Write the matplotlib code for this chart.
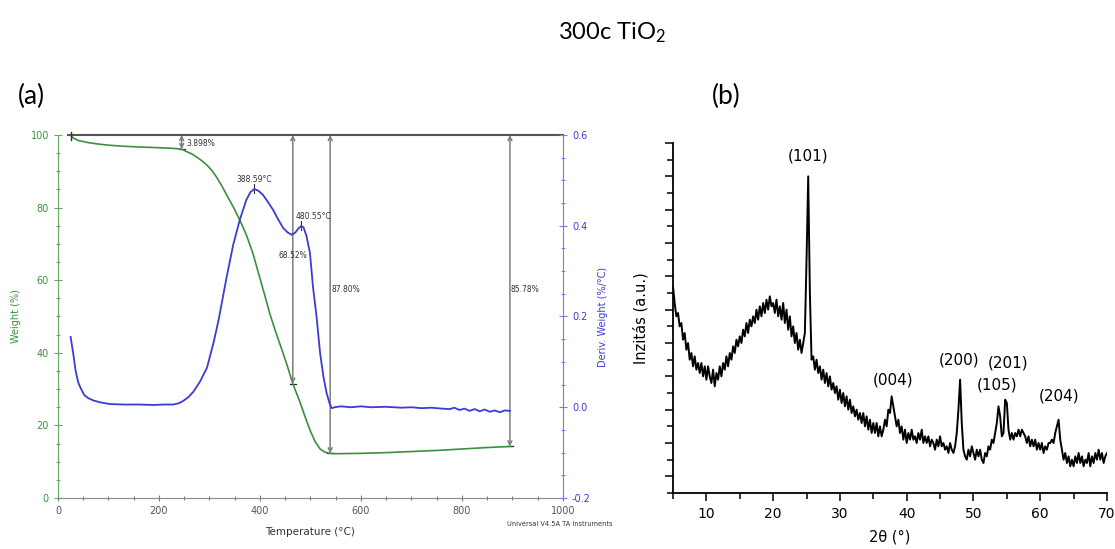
import numpy as np
import matplotlib
matplotlib.use('Agg')
import matplotlib.pyplot as plt
from matplotlib.ticker import MultipleLocator

# ── data: TGA / DTG (panel a) ──
weight_temp = [25, 30, 40, 60, 80, 100, 130, 160, 200, 230, 245, 255, 265, 275, 285,
               295, 305, 314, 324, 334, 347, 360, 373, 386, 400, 410, 420, 433, 446,
               455, 465, 479, 489, 499, 509, 519, 529, 539, 550, 600, 650, 700, 750,
               800, 850, 895]
weight_pct = [100, 99.2, 98.5, 97.9, 97.5, 97.2, 96.9, 96.7, 96.5, 96.3, 96.1, 95.4, 94.8,
              93.9, 92.9, 91.7, 90.2, 88.4, 86.1, 83.5, 80.2, 76.6, 72.5, 67.4, 60.5,
              55.6, 50.5, 45.0, 39.8, 36.0, 31.5, 26.5, 22.5, 18.7, 15.6, 13.5, 12.6,
              12.3, 12.2, 12.3, 12.5, 12.8, 13.1, 13.5, 13.9, 14.2]

deriv_temp = [25, 30, 35, 40, 45, 52, 60, 70, 83, 103, 130, 160, 190, 210, 228, 240, 248,
              258, 268, 281, 295, 308, 318, 334, 347, 360, 373, 381, 389, 397, 406, 416,
              426, 436, 446, 455, 463, 470, 476, 481, 486, 492, 499, 505, 512, 519, 526,
              532, 538, 542, 548, 560, 580, 600, 620, 650, 680, 700, 720, 740, 760, 776,
              785, 795, 805, 815, 825, 835, 845, 855, 865, 875, 885, 895]
deriv_val = [0.155, 0.12, 0.08, 0.055, 0.042, 0.027, 0.02, 0.015, 0.011, 0.007, 0.006,
             0.006, 0.005, 0.006, 0.006, 0.009, 0.014, 0.022, 0.034, 0.056, 0.087, 0.142,
             0.192, 0.287, 0.358, 0.413, 0.457, 0.474, 0.481, 0.477, 0.468, 0.452, 0.435,
             0.414, 0.395, 0.385, 0.380, 0.385, 0.394, 0.399, 0.397, 0.378, 0.34, 0.265,
             0.20, 0.12, 0.065, 0.031, 0.008, -0.002, 0.0, 0.002, 0.0, 0.002, 0.0, 0.001,
             -0.001, 0.0, -0.002, -0.001, -0.003, -0.004, -0.001, -0.006, -0.003, -0.008,
             -0.004, -0.009, -0.005, -0.01, -0.007, -0.011, -0.007, -0.008]

step_temp = [245, 465, 539, 895]
step_bottom = [96.1, 31.5, 12.3, 14.2]
step_label = ['3.898%', '68.52%', '87.80%', '85.78%']
peak_temp = [389, 481]
peak_val = [0.481, 0.399]
peak_label = ['388.59°C', '480.55°C']

# ── data: XRD (panel b) ──
two_theta = np.arange(5.0, 70.01, 0.25)
intensity = [
    5.7, 5.2, 4.8, 4.9, 4.5, 4.6, 4.1, 4.3, 3.8, 4.0, 3.5, 3.7, 3.3, 3.6, 3.2, 3.4,
    3.1, 3.4, 3.0, 3.3, 2.9, 3.3, 3.0, 2.8, 3.2, 2.7, 3.1, 2.9, 3.3, 3.0, 3.4, 3.2,
    3.6, 3.3, 3.7, 3.5, 3.9, 3.7, 4.1, 3.9, 4.2, 4.0, 4.4, 4.2, 4.6, 4.3, 4.7, 4.5,
    4.8, 4.6, 5.0, 4.7, 5.1, 4.8, 5.2, 4.9, 5.3, 5.0, 5.4, 5.1, 5.2, 4.9, 5.3, 4.8,
    5.1, 4.7, 5.2, 4.6, 5.0, 4.4, 4.8, 4.2, 4.5, 4.0, 4.3, 3.8, 4.1, 3.7, 4.0, 4.3,
    6.5, 9.0, 5.5, 3.5, 3.6, 3.2, 3.5, 3.1, 3.3, 2.9, 3.2, 2.8, 3.1, 2.7, 3.0, 2.6,
    2.8, 2.5, 2.7, 2.3, 2.6, 2.2, 2.5, 2.1, 2.4, 2.0, 2.3, 1.9, 2.1, 1.8, 2.0, 1.7,
    1.9, 1.6, 1.9, 1.5, 1.8, 1.4, 1.7, 1.3, 1.6, 1.3, 1.6, 1.2, 1.5, 1.2, 1.4, 1.7,
    1.5, 2.0, 1.9, 2.4, 2.1, 1.8, 1.5, 1.7, 1.3, 1.5, 1.1, 1.4, 1.0, 1.3, 1.1, 1.4,
    1.1, 1.2, 1.0, 1.3, 1.1, 1.4, 1.0, 1.2, 1.0, 1.2, 0.9, 1.1, 1.0, 0.8, 1.1, 0.9,
    1.2, 0.9, 1.0, 0.8, 0.9, 0.7, 1.0, 0.8, 0.7, 0.9, 1.3, 2.0, 2.9, 1.6, 0.8, 0.6,
    0.5, 0.8, 0.6, 0.9, 0.7, 0.5, 0.8, 0.6, 0.8, 0.5, 0.4, 0.7, 0.6, 0.9, 0.8, 1.1,
    1.0, 1.3, 1.6, 2.1, 1.8, 1.2, 1.3, 2.3, 2.2, 1.4, 1.1, 1.3, 1.1, 1.3, 1.2, 1.4,
    1.2, 1.4, 1.3, 1.2, 1.0, 1.2, 0.9, 1.1, 0.9, 1.1, 0.8, 1.0, 0.8, 1.0, 0.7, 0.9,
    0.8, 1.0, 1.0, 1.1, 1.0, 1.3, 1.5, 1.7, 1.1, 0.8, 0.5, 0.7, 0.4, 0.6, 0.3, 0.5,
    0.3, 0.6, 0.4, 0.7, 0.4, 0.6, 0.3, 0.5, 0.4, 0.7, 0.3, 0.6, 0.4, 0.7, 0.5, 0.8,
    0.5, 0.7, 0.4, 0.6, 0.7]
hkl_labels = ['(101)', '(004)', '(200)', '(201)', '(105)', '(204)']
hkl_x = [25.3, 38.0, 47.8, 55.2, 53.5, 62.8]
hkl_y = [9.6, 2.9, 3.5, 3.4, 2.75, 2.4]

GREEN = '#3d8f3d'
GREEN_AX = '#66a866'
BLUE = '#3b3bd6'
BLUE_AX = '#7a7aee'
GRAY = '#7d7d7d'

fig = plt.figure(figsize=(11.15, 5.49), dpi=100)

# ── titles ──
fig.text(0.549, 0.94, r'300c TiO$\mathregular{_2}$', fontsize=17, family='Lato',
         ha='center', va='center')
fig.text(0.028, 0.825, '(a)', fontsize=19, family='Lato', ha='center', va='center')
fig.text(0.651, 0.825, '(b)', fontsize=19, family='Lato', ha='center', va='center')

# ── (a) TGA ──
ax = fig.add_axes([0.052, 0.0929, 0.4529, 0.6612])
ax2 = ax.twinx()
ax.set_xlim(0, 1000)
ax.set_ylim(0, 100)
ax2.set_ylim(-0.2, 0.6)

ax.plot(weight_temp, weight_pct, color=GREEN, lw=1.2, zorder=3)
ax2.plot(deriv_temp, deriv_val, color=BLUE, lw=1.3, zorder=3)

# 기준선 (100%)
ax.plot([20, 1000], [100, 100], color='#555555', lw=1.5, clip_on=False, zorder=4)
ax.plot([25, 25], [98.5, 100.8], color='#333333', lw=1, clip_on=False, zorder=4)

for t, b, lab in zip(step_temp, step_bottom, step_label):
    ax.annotate('', xy=(t, b), xytext=(t, 100),
                arrowprops=dict(arrowstyle='<->', color=GRAY, lw=1.1,
                                shrinkA=0, shrinkB=0, mutation_scale=7))
    ax.plot([t - 6, t + 6], [b, b], color='#222222', lw=0.9)
for t, b, lab in zip(step_temp, step_bottom, step_label):
    if lab == '3.898%':
        ax.text(t + 10, 97.6, lab, fontsize=5.5, color='#333333', va='center')
    elif lab == '68.52%':
        ax.text(t, 66.7, lab, fontsize=5.5, color='#333333', va='center', ha='center')
    else:
        ax.text(t + 2, 57.5, lab, fontsize=5.5, color='#333333', va='center')

for t, v, lab in zip(peak_temp, peak_val, peak_label):
    ax2.plot([t, t], [v - 0.008, v + 0.012], color='#333333', lw=0.8)
ax2.text(389, 0.503, peak_label[0], fontsize=5.5, color='#333333', ha='center', va='center')
ax2.text(541, 0.421, peak_label[1], fontsize=5.5, color='#333333', ha='right', va='center')

ax.xaxis.set_major_locator(MultipleLocator(200))
ax.xaxis.set_minor_locator(MultipleLocator(50))
ax.yaxis.set_major_locator(MultipleLocator(20))
ax.yaxis.set_minor_locator(MultipleLocator(5))
ax2.yaxis.set_major_locator(MultipleLocator(0.2))
ax2.yaxis.set_minor_locator(MultipleLocator(0.05))
ax2.yaxis.set_major_formatter(matplotlib.ticker.FormatStrFormatter('%.1f'))

for a in (ax, ax2):
    a.spines['top'].set_visible(False)
ax.spines['left'].set_color(GREEN_AX)
ax.spines['bottom'].set_color('#888888')
ax.spines['right'].set_visible(False)
ax2.spines['left'].set_visible(False)
ax2.spines['bottom'].set_visible(False)
ax2.spines['right'].set_color(BLUE_AX)

ax.tick_params(axis='x', which='both', direction='inout', colors='#777777',
               labelcolor='#555555', labelsize=7, width=0.8)
ax.tick_params(axis='x', which='major', length=5)
ax.tick_params(axis='x', which='minor', length=3)
ax.tick_params(axis='y', which='both', direction='inout', colors=GREEN_AX,
               labelcolor=GREEN, labelsize=7, width=0.8)
ax.tick_params(axis='y', which='major', length=6)
ax.tick_params(axis='y', which='minor', length=3)
ax2.tick_params(axis='y', which='both', direction='inout', colors=BLUE_AX,
                labelcolor=BLUE, labelsize=7, width=0.8)
ax2.tick_params(axis='y', which='major', length=6)
ax2.tick_params(axis='y', which='minor', length=3)

ax.set_xlabel('Temperature (°C)', fontsize=7.5, color='#333333', labelpad=8)
ax.set_ylabel('Weight (%)', fontsize=7, color=GREEN, labelpad=7)
ax2.set_ylabel('Deriv. Weight (%/°C)', fontsize=7, color=BLUE, labelpad=5)
fig.text(0.502, 0.045, 'Universal V4.5A TA Instruments', fontsize=4.8,
         color='#333333', ha='center', va='center')

# ── (b) XRD ──
bx = fig.add_axes([0.6036, 0.102, 0.3892, 0.6375])
bx.plot(two_theta, intensity, color='black', lw=1.4)
bx.set_xlim(5, 70)
bx.set_ylim(-0.5, 10)
bx.spines['top'].set_visible(False)
bx.spines['right'].set_visible(False)
bx.spines['left'].set_linewidth(1.3)
bx.spines['bottom'].set_linewidth(1.3)
bx.xaxis.set_major_locator(MultipleLocator(10))
bx.xaxis.set_minor_locator(MultipleLocator(5))
bx.yaxis.set_major_locator(MultipleLocator(1))
bx.yaxis.set_minor_locator(MultipleLocator(0.5))
bx.tick_params(axis='both', which='both', direction='out', width=1.1)
bx.tick_params(axis='both', which='major', length=6)
bx.tick_params(axis='both', which='minor', length=4)
bx.tick_params(axis='y', labelleft=False)
bx.tick_params(axis='x', labelsize=10, pad=4)
for lab, x, y in zip(hkl_labels, hkl_x, hkl_y):
    bx.text(x, y, lab, fontsize=11, ha='center', va='center')
bx.set_xlabel('2θ (°)', fontsize=10.5, labelpad=6)
bx.set_ylabel('Inzitás (a.u.)', fontsize=10.5, labelpad=10)

fig.savefig('out.png', dpi=100)
